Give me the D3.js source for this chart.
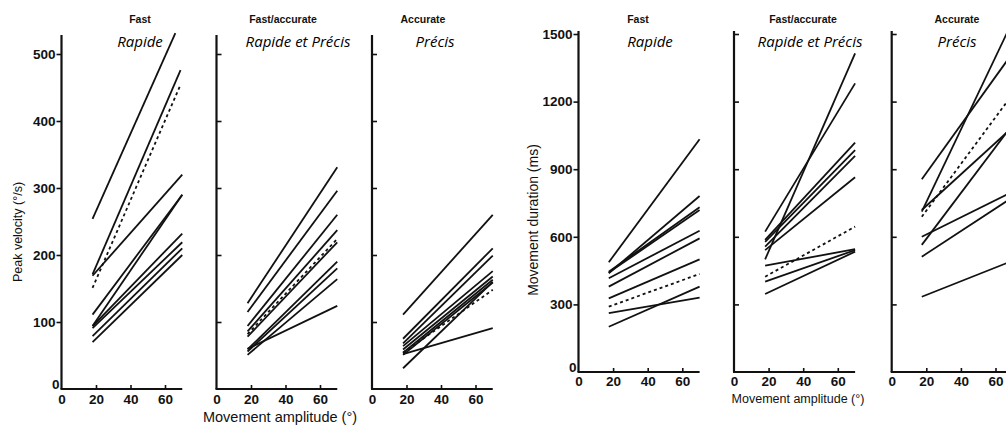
<!DOCTYPE html>
<html>
<head>
<meta charset="utf-8">
<script src="https://cdn.jsdelivr.net/npm/d3@7"></script>
<style>
  body { margin: 0; background: #fff; }
  svg { display: block; }
</style>
</head>
<body>
<svg id="chart" width="1006" height="430"></svg>
<script>
// Regression lines per subject: amplitude range (deg) and fitted values at its ends.
// Lines flagged mean:true are the group means (drawn dashed).
const velocityFast = [
  { a: [18, 66], v: [254, 531] },
  { a: [18, 69], v: [171, 476] },
  { a: [18, 69], v: [151, 454], mean: true },
  { a: [18, 70], v: [169, 320] },
  { a: [18, 70], v: [111, 290] },
  { a: [18, 70], v: [94, 290] },
  { a: [18, 70], v: [94, 232] },
  { a: [18, 70], v: [91, 219] },
  { a: [18, 70], v: [79, 210] },
  { a: [18, 70], v: [70, 200] }
];
const velocityFastAccurate = [
  { a: [18, 70], v: [128, 331] },
  { a: [18, 70], v: [115, 296] },
  { a: [18, 70], v: [94, 260] },
  { a: [18, 70], v: [82, 224], mean: true },
  { a: [18, 70], v: [86, 237] },
  { a: [18, 70], v: [78, 219] },
  { a: [18, 70], v: [59, 190] },
  { a: [18, 70], v: [56, 180] },
  { a: [18, 70], v: [51, 164] },
  { a: [18, 70], v: [60, 124] }
];
const velocityAccurate = [
  { a: [18, 70], v: [111, 260] },
  { a: [18, 70], v: [75, 210] },
  { a: [18, 70], v: [68, 199] },
  { a: [18, 70], v: [64, 176] },
  { a: [18, 70], v: [59, 168] },
  { a: [18, 70], v: [54, 163] },
  { a: [18, 70], v: [51, 159] },
  { a: [18, 70], v: [54, 148], mean: true },
  { a: [18, 70], v: [52, 91] },
  { a: [18, 70], v: [31, 160] }
];
const durationFast = [
  { a: [17.5, 70], v: [487, 1033] },
  { a: [17.5, 70], v: [438, 781] },
  { a: [17.5, 70], v: [445, 731] },
  { a: [17.5, 70], v: [441, 719] },
  { a: [17.5, 70], v: [416, 627] },
  { a: [17.5, 70], v: [379, 593] },
  { a: [17.5, 70], v: [327, 500] },
  { a: [17.5, 70], v: [290, 435], mean: true },
  { a: [17.5, 70], v: [261, 330] },
  { a: [17.5, 70], v: [201, 379] }
];
const durationFastAccurate = [
  { a: [18, 70], v: [623, 1281] },
  { a: [18, 70], v: [500, 1414] },
  { a: [18, 70], v: [586, 1018] },
  { a: [18, 70], v: [578, 985] },
  { a: [18, 70], v: [556, 959] },
  { a: [18, 70], v: [541, 864] },
  { a: [18, 70], v: [423, 645], mean: true },
  { a: [18, 70], v: [472, 545] },
  { a: [18, 70], v: [401, 541] },
  { a: [18, 70], v: [346, 534] }
];
const durationAccurate = [
  { a: [17.4, 70], v: [855, 1417] },
  { a: [17.4, 70], v: [712, 1559] },
  { a: [17.4, 70], v: [719, 1087] },
  { a: [17.4, 70], v: [689, 1234], mean: true },
  { a: [17.4, 70], v: [564, 1100] },
  { a: [17.4, 70], v: [600, 801] },
  { a: [17.4, 70], v: [512, 776] },
  { a: [17.4, 70], v: [334, 494] }
];

const conditionNames = ["Fast", "Fast/accurate", "Accurate"];
const conditionNamesFr = ["Rapide", "Rapide et Précis", "Précis"];
const amplitudeTicks = [0, 20, 40, 60];
const velocityTicks = [0, 100, 200, 300, 400, 500];
const durationTicks = [0, 300, 600, 900, 1200, 1500];
const velocityTitle = "Peak velocity (\u00B0/s)";
const durationTitle = "Movement duration (ms)";
const amplitudeTitle = "Movement amplitude (\u00B0)";

const svg = d3.select("#chart");
const tickFont = "Liberation Sans, Arial, sans-serif";
const tickSize = 13.5;

// Layout of the two panel groups
const groups = [
  {
    series: [velocityFast, velocityFastAccurate, velocityAccurate],
    ticks: velocityTicks,
    domainY: [0, 500],
    rangeY: [389, 54],
    axisTop: 35,
    origins: [61.5, 216.5, 372],
    pxPerDeg: 1.725,
    yTitle: velocityTitle, yTitleX: 18, yTitleY: 232, yTitleSize: 12.5,
    xTitleX: 280, xTitleY: 422, xTitleSize: 14.5,
    xLabelPad: 5,
    enX: [140, 283, 423], frX: [140, 298, 435]
  },
  {
    series: [durationFast, durationFastAccurate, durationAccurate],
    ticks: durationTicks,
    domainY: [0, 1500],
    rangeY: [372, 34],
    axisTop: 31,
    origins: [578.5, 734, 891.7],
    pxPerDeg: 1.73,
    yTitle: durationTitle, yTitleX: 533, yTitleY: 220, yTitleSize: 14,
    xTitleX: 798, xTitleY: 403, xTitleSize: 12.5,
    xLabelPad: 4,
    enX: [638, 803, 957], frX: [650, 810, 957]
  }
];

groups.forEach(g => {
  const y = d3.scaleLinear().domain(g.domainY).range(g.rangeY);

  g.origins.forEach((ox, i) => {
    const x = d3.scaleLinear().domain([0, 70]).range([ox, ox + 70 * g.pxPerDeg]);
    const panel = svg.append("g");

    // axis lines
    panel.append("line")
      .attr("x1", ox).attr("x2", ox)
      .attr("y1", g.axisTop).attr("y2", g.rangeY[0])
      .attr("stroke", "#111").attr("stroke-width", 2.2);
    panel.append("line")
      .attr("x1", ox - 1).attr("x2", x(70))
      .attr("y1", g.rangeY[0]).attr("y2", g.rangeY[0])
      .attr("stroke", "#111").attr("stroke-width", 2.2);

    // y ticks: labelled outward on the first panel, inward on the others
    const yAxis = (i === 0 ? d3.axisLeft(y) : d3.axisRight(y))
      .tickValues(g.ticks.slice(1))
      .tickSizeInner(5).tickSizeOuter(0).tickPadding(1)
      .tickFormat(i === 0 ? d3.format("d") : () => "");
    const ya = panel.append("g").attr("transform", `translate(${ox},0)`).call(yAxis);
    ya.select(".domain").remove();
    ya.selectAll("line").attr("stroke", "#111").attr("stroke-width", 1.6);
    ya.selectAll("text").attr("font-family", tickFont).attr("font-weight", "bold")
      .attr("font-size", tickSize).attr("fill", "#111");
    if (i === 0) {
      // zero label sits just above the baseline
      panel.append("text")
        .attr("x", ox - 2).attr("y", y(0) - 4).attr("dy", "0.32em")
        .attr("text-anchor", "end")
        .attr("font-family", tickFont).attr("font-weight", "bold")
        .attr("font-size", tickSize).attr("fill", "#111").text("0");
    }

    // x ticks point up into the panel
    const xAxis = d3.axisBottom(x)
      .tickValues(amplitudeTicks)
      .tickSizeInner(-4).tickSizeOuter(0).tickPadding(g.xLabelPad);
    const xa = panel.append("g").attr("transform", `translate(0,${g.rangeY[0]})`).call(xAxis);
    xa.select(".domain").remove();
    xa.selectAll("line").attr("stroke", "#111").attr("stroke-width", 1.6);
    xa.selectAll(".tick").filter(d => d === 0).select("line").remove();
    xa.selectAll("text").attr("font-family", tickFont).attr("font-weight", "bold")
      .attr("font-size", tickSize).attr("fill", "#111");

    // subject lines
    const line = d3.line().x(d => x(d[0])).y(d => y(d[1]));
    panel.selectAll("path.subject")
      .data(g.series[i])
      .join("path")
      .attr("class", "subject")
      .attr("d", d => line([[d.a[0], d.v[0]], [d.a[1], d.v[1]]]))
      .attr("fill", "none")
      .attr("stroke", "#111")
      .attr("stroke-width", 1.8)
      .attr("stroke-dasharray", d => d.mean ? "3,3" : null);

    // condition titles
    panel.append("text")
      .attr("x", g.enX[i]).attr("y", 23)
      .attr("text-anchor", "middle")
      .attr("font-family", tickFont).attr("font-weight", "bold")
      .attr("font-size", 10.5).attr("fill", "#111")
      .text(conditionNames[i]);
    panel.append("text")
      .attr("x", g.frX[i]).attr("y", 47)
      .attr("text-anchor", "middle")
      .attr("font-family", "Open Sans, sans-serif").attr("font-style", "italic")
      .attr("font-size", 15).attr("fill", "#000")
      .text(conditionNamesFr[i]);
  });

  // axis titles
  svg.append("text")
    .attr("transform", `translate(${g.yTitleX},${g.yTitleY}) rotate(-90)`)
    .attr("text-anchor", "middle").attr("dy", "0.35em")
    .attr("font-family", tickFont).attr("font-size", g.yTitleSize).attr("fill", "#111")
    .text(g.yTitle);
  svg.append("text")
    .attr("x", g.xTitleX).attr("y", g.xTitleY)
    .attr("text-anchor", "middle")
    .attr("font-family", tickFont).attr("font-size", g.xTitleSize).attr("fill", "#111")
    .text(amplitudeTitle);
});
</script>
</body>
</html>
